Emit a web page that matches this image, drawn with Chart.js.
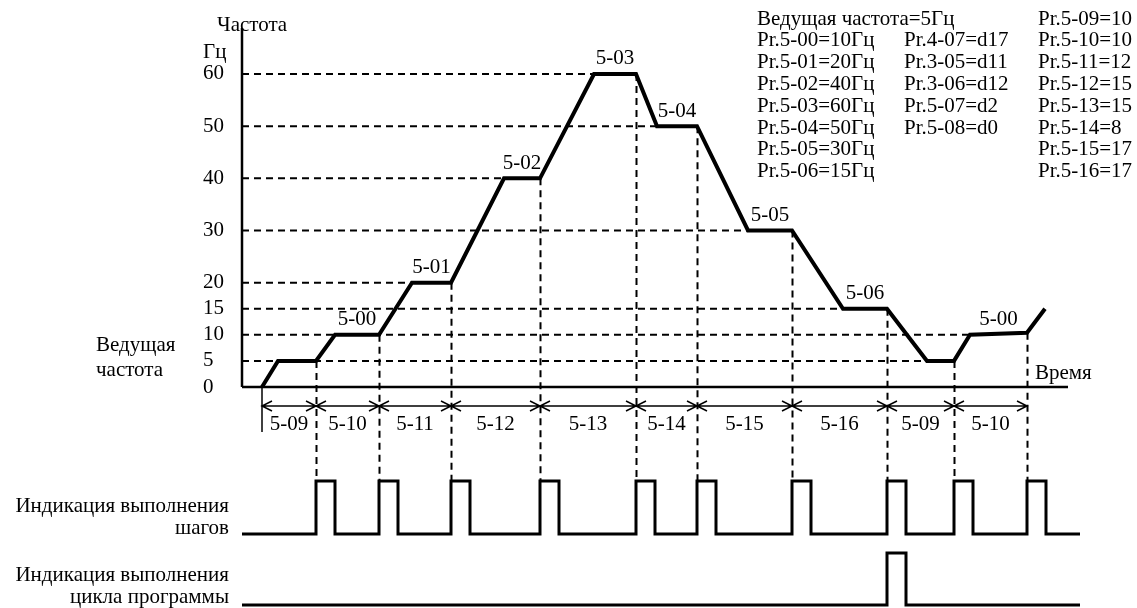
<!DOCTYPE html>
<html>
<head>
<meta charset="utf-8">
<script src="https://cdn.jsdelivr.net/npm/chart.js@4"></script>
<style>
  body { margin: 0; background: #fff; }
  canvas { display: block; }
</style>
</head>
<body>
<canvas id="program-chart" width="1137" height="608"></canvas>
<script>
// speed profile (time in arbitrary units, frequency in Hz)
const profileTime = [20, 36, 74, 93, 137, 170, 209, 262, 298, 352, 394, 415, 455, 506, 550, 601, 645, 685, 712, 728, 785, 803]
const profileFreq = [0, 5, 5, 10, 10, 20, 20, 40, 40, 60, 60, 50, 50, 30, 30, 15, 15, 5, 5, 10, 10.4, 15]

const freqTicks = [0, 5, 10, 15, 20, 30, 40, 50, 60]

// dashed reference levels and the time where each one stops at the curve
const levelFreq = [5, 10, 15, 20, 30, 40, 50, 60]
const levelEnd = [685, 728, 601, 170, 506, 262, 415, 352]

// step boundaries and step time parameters
const stepTimes = [20, 74, 137, 209, 298, 394, 455, 550, 645, 712, 785]
const stepLabels = ['5-09', '5-10', '5-11', '5-12', '5-13', '5-14', '5-15', '5-16', '5-09', '5-10']

// speed plateaus
const speedLabels = ['5-00', '5-01', '5-02', '5-03', '5-04', '5-05', '5-06', '5-00']
const speedStart = [93, 170, 262, 352, 415, 506, 601, 728]
const speedEnd = [137, 209, 298, 394, 455, 550, 645, 785]
const speedFreq = [10, 20, 40, 60, 50, 30, 15, 10]

// indicator outputs
const stepPulses = [74, 137, 209, 298, 394, 455, 550, 645, 712, 785]
const cyclePulses = [645]
const pulseWidth = 19
const timeAxisEnd = 826
const signalEnd = 838
const freqAxisTop = 68.8

const paramCol1 = ['Ведущая частота=5Гц', 'Pr.5-00=10Гц', 'Pr.5-01=20Гц', 'Pr.5-02=40Гц', 'Pr.5-03=60Гц', 'Pr.5-04=50Гц', 'Pr.5-05=30Гц', 'Pr.5-06=15Гц']
const paramCol2 = ['', 'Pr.4-07=d17', 'Pr.3-05=d11', 'Pr.3-06=d12', 'Pr.5-07=d2', 'Pr.5-08=d0', '', '']
const paramCol3 = ['Pr.5-09=10', 'Pr.5-10=10', 'Pr.5-11=12', 'Pr.5-12=15', 'Pr.5-13=15', 'Pr.5-14=8', 'Pr.5-15=17', 'Pr.5-16=17']

const FONT = '21px "Liberation Serif", "Times New Roman", serif'

function pulseTrain (starts) {
  const pts = [{ x: 0, y: 0 }]
  for (let i = 0; i < starts.length; i++) {
    const t = starts[i]
    pts.push({ x: t, y: 0 }, { x: t, y: 1 }, { x: t + pulseWidth, y: 1 }, { x: t + pulseWidth, y: 0 })
  }
  pts.push({ x: signalEnd, y: 0 })
  return pts
}

function line (data, axis, width, dash) {
  return {
    data: data,
    yAxisID: axis,
    borderColor: '#000',
    borderWidth: width,
    borderDash: dash || [],
    pointRadius: 0,
    fill: false,
    tension: 0,
    clip: false,
  }
}

const datasets = []
for (let i = 0; i < levelFreq.length; i++) {
  datasets.push(line([{ x: 0, y: levelFreq[i] }, { x: levelEnd[i], y: levelFreq[i] }], 'y', 2, [7, 5]))
}
datasets.push(line([{ x: 0, y: 0 }, { x: 0, y: freqAxisTop }], 'y', 2.5))
datasets.push(line([{ x: 0, y: 0 }, { x: timeAxisEnd, y: 0 }], 'y', 2.5))
datasets.push(line(profileTime.map((t, i) => ({ x: t, y: profileFreq[i] })), 'y', 4))
datasets.push(line(pulseTrain(stepPulses), 'y2', 3))
datasets.push(line(pulseTrain(cyclePulses), 'y3', 3))

const diagramText = {
  id: 'diagramText',
  afterDatasetsDraw (chart) {
    const ctx = chart.ctx
    const x = chart.scales.x
    const y = chart.scales.y
    const y2 = chart.scales.y2
    const area = chart.chartArea
    ctx.save()
    ctx.strokeStyle = '#000'
    ctx.fillStyle = '#000'

    // dashed drop lines from the curve to the step pulses
    ctx.lineWidth = 2
    ctx.setLineDash([7, 5])
    for (let i = 1; i < stepTimes.length; i++) {
      const t = stepTimes[i]
      const f = profileFreq[profileTime.indexOf(t)]
      const px = Math.round(x.getPixelForValue(t)) + 0.5
      ctx.beginPath()
      ctx.moveTo(px, y.getPixelForValue(f))
      ctx.lineTo(px, y2.getPixelForValue(1))
      ctx.stroke()
    }
    ctx.setLineDash([])

    // start marker
    const x0 = x.getPixelForValue(stepTimes[0])
    const yBase = y.getPixelForValue(0)
    ctx.lineWidth = 1.5
    ctx.beginPath()
    ctx.moveTo(x0, yBase)
    ctx.lineTo(x0, yBase + 45)
    ctx.stroke()

    // step duration arrows
    const ay = yBase + 19
    ctx.lineWidth = 1.5
    for (let i = 0; i < stepTimes.length - 1; i++) {
      const a = x.getPixelForValue(stepTimes[i])
      const b = x.getPixelForValue(stepTimes[i + 1])
      ctx.beginPath()
      ctx.moveTo(a, ay)
      ctx.lineTo(b, ay)
      ctx.moveTo(a + 10, ay - 5)
      ctx.lineTo(a, ay)
      ctx.lineTo(a + 10, ay + 5)
      ctx.moveTo(b - 10, ay - 5)
      ctx.lineTo(b, ay)
      ctx.lineTo(b - 10, ay + 5)
      ctx.stroke()
    }

    ctx.font = FONT
    ctx.textBaseline = 'middle'
    ctx.textAlign = 'center'
    for (let i = 0; i < stepLabels.length; i++) {
      const mid = (x.getPixelForValue(stepTimes[i]) + x.getPixelForValue(stepTimes[i + 1])) / 2
      ctx.fillText(stepLabels[i], mid, ay + 18)
    }

    // speed labels above the plateaus
    for (let i = 0; i < speedLabels.length; i++) {
      const mid = x.getPixelForValue((speedStart[i] + speedEnd[i]) / 2)
      ctx.fillText(speedLabels[i], mid, y.getPixelForValue(speedFreq[i]) - 15)
    }

    // axis titles
    ctx.textAlign = 'left'
    ctx.fillText('Частота', area.left - 25, 25)
    ctx.fillText('Гц', area.left - 39, 52)
    ctx.fillText('Время', x.getPixelForValue(timeAxisEnd) - 33, yBase - 14)
    ctx.fillText('Ведущая', 96, yBase - 42)
    ctx.fillText('частота', 96, yBase - 17)

    // parameter table
    for (let i = 0; i < paramCol1.length; i++) {
      const ty = 19 + i * 21.8
      ctx.fillText(paramCol1[i], 757, ty)
      ctx.fillText(paramCol2[i], 904, ty)
      ctx.fillText(paramCol3[i], 1038, ty)
    }

    // indicator titles
    ctx.textAlign = 'right'
    const s0 = chart.scales.y2.getPixelForValue(0)
    const c0 = chart.scales.y3.getPixelForValue(0)
    ctx.fillText('Индикация выполнения', 229, s0 - 28)
    ctx.fillText('шагов', 229, s0 - 6)
    ctx.fillText('Индикация выполнения', 229, c0 - 30)
    ctx.fillText('цикла программы', 229, c0 - 8)
    ctx.restore()
  },
}

const config = {
  type: 'line',
  data: { datasets: datasets },
  options: {
    responsive: false,
    animation: false,
    devicePixelRatio: 1,
    layout: { padding: { left: 203, right: 37, top: 0, bottom: 1 } },
    plugins: {
      legend: { display: false },
      tooltip: { enabled: false },
    },
    scales: {
      x: { type: 'linear', min: 0, max: 858, display: false },
      y: {
        type: 'linear',
        min: -42.17,
        max: 74.18,
        position: 'left',
        grid: { display: false },
        border: { display: false },
        ticks: {
          crossAlign: 'far',
          padding: 0,
          color: '#000',
          font: { family: '"Liberation Serif", "Times New Roman", serif', size: 21 },
        },
        afterBuildTicks: function (scale) {
          scale.ticks = freqTicks.map(v => ({ value: v }))
        },
        afterFit: function (scale) {
          scale.width = 39
          scale.paddingTop = 0
          scale.paddingBottom = 0
        },
      },
      y2: { type: 'linear', min: -1.377, max: 10.075, display: false },
      y3: { type: 'linear', min: -0.0385, max: 11.635, display: false },
    },
  },
  plugins: [diagramText],
}

const ctx = document.getElementById('program-chart').getContext('2d')
const myChart = new Chart(ctx, config)
</script>
</body>
</html>
